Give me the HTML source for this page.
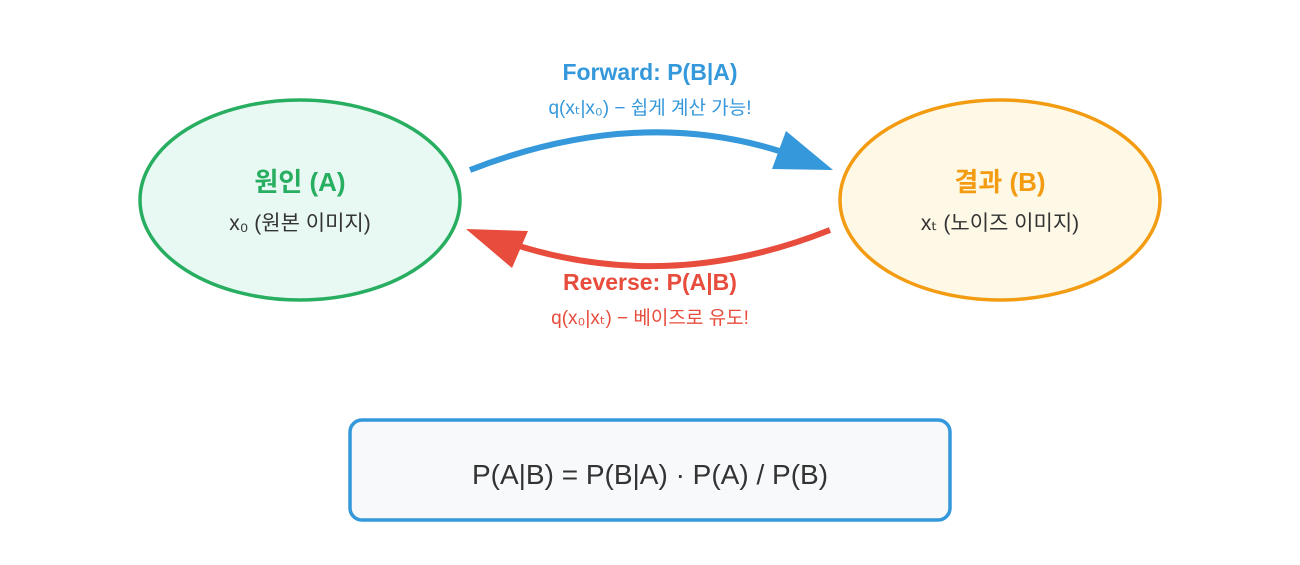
<!DOCTYPE html>
<html><head><meta charset="utf-8"><style>
html,body{margin:0;padding:0;background:#fff;}
svg text{font-family:"Liberation Sans","Noto Sans CJK KR",sans-serif;}
</style></head><body>
<svg width="1300" height="560" viewBox="0 0 1300 560" xmlns="http://www.w3.org/2000/svg">
<rect width="1300" height="560" fill="#fff"/>
<ellipse cx="300" cy="200" rx="160" ry="100" fill="#e8f8f2" stroke="#27ae60" stroke-width="3.5"/>
<text x="300" y="191" text-anchor="middle" font-size="26" font-weight="bold" fill="#27ae60">원인 (A)</text>
<text x="300" y="230" text-anchor="middle" font-size="21" fill="#333">x₀ (원본 이미지)</text>
<ellipse cx="1000" cy="200" rx="160" ry="100" fill="#fef8e7" stroke="#f39c12" stroke-width="3.5"/>
<text x="1000" y="191" text-anchor="middle" font-size="26" font-weight="bold" fill="#f39c12">결과 (B)</text>
<text x="1000" y="230" text-anchor="middle" font-size="21" fill="#333">xₜ (노이즈 이미지)</text>
<text x="650" y="80" text-anchor="middle" font-size="23" font-weight="bold" fill="#3498db">Forward: P(B|A)</text>
<text x="650" y="114" text-anchor="middle" font-size="19" fill="#3498db">q(xₜ|x₀) − 쉽게 계산 가능!</text>
<path d="M470 170 Q650 100 805 160" fill="none" stroke="#3498db" stroke-width="6"/>
<polygon points="786,131 772,169 833,170" fill="#3498db"/>
<path d="M830 230 Q660 298 495 238" fill="none" stroke="#e74c3c" stroke-width="6"/>
<polygon points="466,229 528,231 512,268" fill="#e74c3c"/>
<text x="650" y="290" text-anchor="middle" font-size="23" font-weight="bold" fill="#e74c3c">Reverse: P(A|B)</text>
<text x="650" y="324" text-anchor="middle" font-size="19" fill="#e74c3c">q(x₀|xₜ) − 베이즈로 유도!</text>
<rect x="350" y="420" width="600" height="100" rx="12" fill="#f8f9fa" stroke="#3498db" stroke-width="3.5"/>
<text x="650" y="484" text-anchor="middle" font-size="28" fill="#333">P(A|B) = P(B|A) · P(A) / P(B)</text>
</svg>
</body></html>
